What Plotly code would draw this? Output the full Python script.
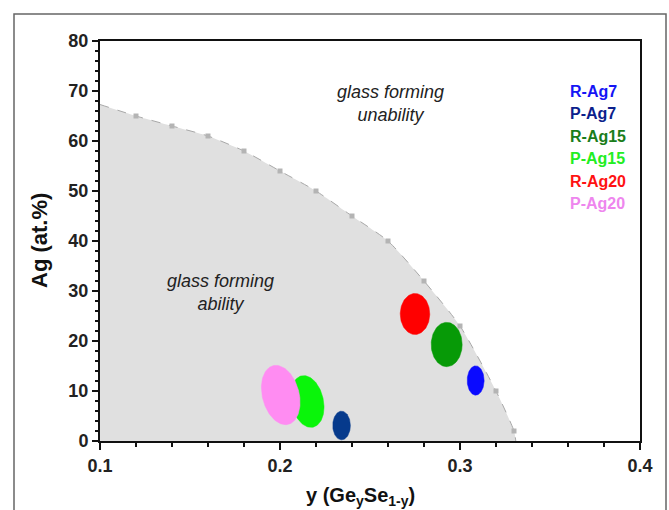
import numpy as np
import plotly.graph_objects as go

# Glass-forming boundary of the Ag-Ge-Se system
boundary_y = [0.10, 0.12, 0.14, 0.16, 0.18, 0.20, 0.22, 0.24, 0.26, 0.28, 0.30, 0.32, 0.33]
boundary_ag = [67.3, 65.0, 63.0, 61.0, 58.0, 54.0, 50.0, 45.0, 40.0, 32.0, 23.0, 10.0, 2.0]
boundary_marked = boundary_y[1:]
boundary_marked_ag = boundary_ag[1:]
boundary_end_y = 0.331

# Sample regions: centre (y, Ag), half-width in y, half-height in Ag, tilt (deg)
samples = ["R-Ag7", "P-Ag7", "R-Ag15", "P-Ag15", "R-Ag20", "P-Ag20"]
centre_y = [0.3087, 0.2342, 0.2926, 0.2152, 0.2750, 0.2004]
centre_ag = [12.1, 3.1, 19.3, 7.9, 25.4, 9.2]
half_w = [0.0047, 0.0049, 0.0086, 0.0089, 0.0082, 0.0102]
half_h = [2.93, 2.87, 4.43, 5.26, 4.10, 6.06]
tilt_deg = [0, 0, 0, 12.7, 0, 14.6]
fill_colors = ["#0a0aff", "#063a8c", "#079a07", "#0af50a", "#ff0000", "#ff8cf2"]
label_colors = ["#1515f5", "#0c1f8c", "#1a7d1a", "#22ee22", "#ff1212", "#ee86ee"]

X_RANGE = [0.1, 0.4]
Y_RANGE = [0, 80]
W, H = 669, 510
ML, MR, MT, MB = 100, 29, 41, 69
PW, PH = W - ML - MR, H - MT - MB
sx = (X_RANGE[1] - X_RANGE[0]) / PW  # data per pixel
sy = (Y_RANGE[1] - Y_RANGE[0]) / PH

FONT = "Liberation Sans, Arial, sans-serif"


def px_x(p):
    """Horizontal page pixel -> paper coordinate."""
    return (p - ML) / PW


def px_y(p):
    """Vertical page pixel (from top) -> paper coordinate."""
    return (H - MB - p) / PH


fig = go.Figure()

# shaded glass-forming region
fig.add_trace(go.Scatter(
    x=boundary_y + [boundary_end_y], y=boundary_ag + [0],
    mode="lines", line=dict(color="#a8a8a8", width=1, dash="dash", shape="spline", smoothing=0.6),
    fill="tozeroy", fillcolor="#e0e0e0", hoverinfo="skip", showlegend=False))
fig.add_trace(go.Scatter(
    x=boundary_marked, y=boundary_marked_ag, mode="markers",
    marker=dict(symbol="square", size=5, color="#b4b4b4"),
    showlegend=False))

# sample regions as filled ellipses (tilt applied in screen space)
t = np.linspace(0, 2 * np.pi, 121)
for name, cx, cy, hw, hh, tilt, col in zip(samples, centre_y, centre_ag, half_w,
                                           half_h, tilt_deg, fill_colors):
    b_px, a_px = hw / sx, hh / sy
    th = np.radians(tilt)
    u, v = b_px * np.cos(t), a_px * np.sin(t)
    px = u * np.cos(th) - v * np.sin(th)
    py = u * np.sin(th) + v * np.cos(th)
    fig.add_trace(go.Scatter(
        x=cx + px * sx, y=cy + py * sy, mode="lines", fill="toself",
        fillcolor=col, line=dict(color=col, width=0.5), name=name,
        showlegend=False))

ann = []
# coloured sample key
key_y = [70.0, 65.5, 61.0, 56.5, 51.9, 47.5]
for name, col, ky in zip(samples, label_colors, key_y):
    ann.append(dict(x=0.3600, y=ky, xref="x", yref="y", text=f"<b>{name}</b>",
                    showarrow=False, xanchor="left", yanchor="middle",
                    font=dict(family=FONT, size=16, color=col)))

ann.append(dict(x=0.2613, y=67.5, xref="x", yref="y",
                text="<i>glass forming<br>unability</i>", showarrow=False,
                font=dict(family=FONT, size=18, color="#222222")))
ann.append(dict(x=0.1667, y=29.7, xref="x", yref="y",
                text="<i>glass forming<br>ability</i>", showarrow=False,
                font=dict(family=FONT, size=18, color="#222222")))

# axis titles
ann.append(dict(x=px_x(360), y=px_y(496), xref="paper", yref="paper",
                text="<b>y (Ge<sub>y</sub>Se<sub>1-y</sub>)</b>", showarrow=False,
                yanchor="middle", font=dict(family=FONT, size=20, color="#111111")))
ann.append(dict(x=px_x(39), y=px_y(241), xref="paper", yref="paper",
                text="<b>Ag (at.%)</b>", textangle=-90, showarrow=False,
                xanchor="center", yanchor="middle",
                font=dict(family=FONT, size=22, color="#111111")))

axis_common = dict(showgrid=False, zeroline=False, showline=True, linecolor="#111111",
                   ticks="outside", tickcolor="#111111", layer="below traces",
                   tickfont=dict(family=FONT, size=18, color="#222222"))

fig.update_layout(
    width=W, height=H,
    margin=dict(l=ML, r=MR, t=MT, b=MB),
    paper_bgcolor="white", plot_bgcolor="white",
    annotations=ann,
    xaxis=dict(range=X_RANGE, tickvals=[0.1, 0.2, 0.3, 0.4], ticktext=["<b>0.1</b>", "<b>0.2</b>", "<b>0.3</b>", "<b>0.4</b>"],
               ticklen=7, tickwidth=2, linewidth=2, mirror=True,
               minor=dict(dtick=0.02, ticks="outside", ticklen=4, tickwidth=1.5, tickcolor="#111111"),
               **axis_common),
    yaxis=dict(range=Y_RANGE, tickvals=list(range(0, 81, 10)),
               ticktext=[f"<b>{v}</b>" for v in range(0, 81, 10)],
               ticklen=6, tickwidth=2, linewidth=2, mirror=True,
               minor=dict(dtick=2, ticks="outside", ticklen=3, tickwidth=1.5, tickcolor="#111111"),
               **axis_common),
    shapes=[dict(type="rect", xref="paper", yref="paper",
                 x0=px_x(14), x1=px_x(666), y0=px_y(530), y1=px_y(14),
                 line=dict(color="#666666", width=1.5), layer="above")],
)

fig.write_html("out.html")
